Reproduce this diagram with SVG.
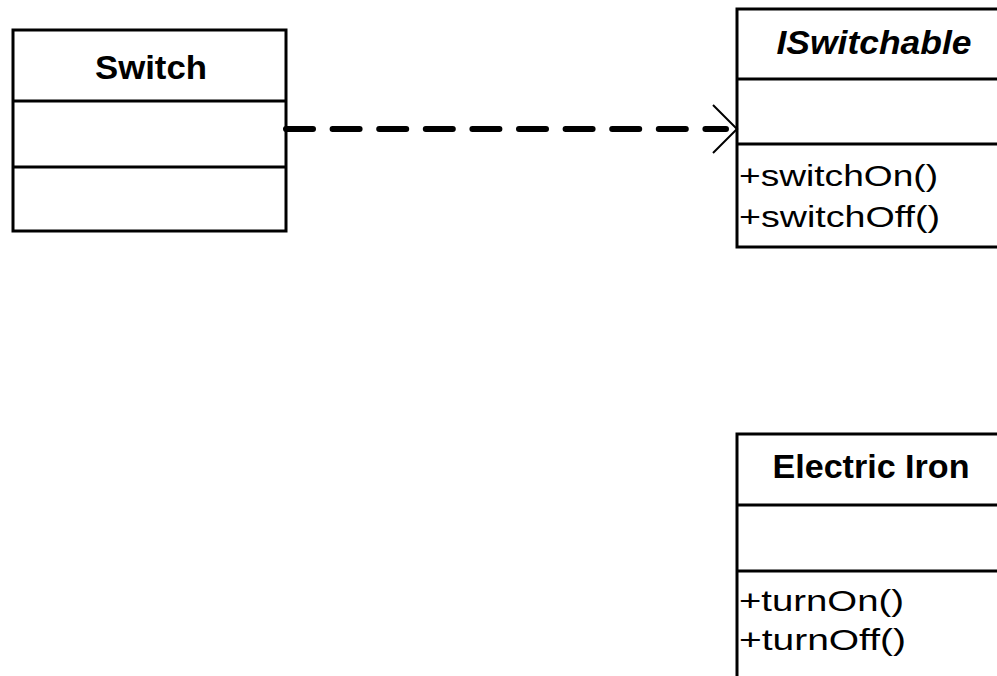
<svg xmlns="http://www.w3.org/2000/svg" width="997" height="676" viewBox="0 0 997 676">
<style>
.box{fill:#fff;stroke:#000;stroke-width:3}
.div{stroke:#000;stroke-width:3}
.name{font-family:"Liberation Sans",Arial,sans-serif;font-weight:bold;font-size:34px;text-anchor:middle;fill:#000}
.op{font-family:"Liberation Sans",Arial,sans-serif;font-size:29px;fill:#000}
.dep{stroke:#000;stroke-width:6;stroke-linecap:round;stroke-dasharray:27 19.6;fill:none}
.head{stroke:#000;stroke-width:2;fill:none}
</style>
<rect width="997" height="676" fill="#fff"/>
<g id="Switch">
<rect class="box" x="13" y="30" width="273" height="201"/>
<line class="div" x1="13" y1="101" x2="286" y2="101"/>
<line class="div" x1="13" y1="167" x2="286" y2="167"/>
<text class="name" x="151" y="79" textLength="112" lengthAdjust="spacingAndGlyphs">Switch</text>
</g>
<g id="ISwitchable">
<rect class="box" x="737" y="9" width="290" height="238"/>
<line class="div" x1="737" y1="79" x2="1027" y2="79"/>
<line class="div" x1="737" y1="144" x2="1027" y2="144"/>
<text class="name" x="874" y="54" font-style="italic" font-size="31" textLength="195" lengthAdjust="spacingAndGlyphs">ISwitchable</text>
<text class="op" x="739" y="186" textLength="199" lengthAdjust="spacingAndGlyphs">+switchOn()</text>
<text class="op" x="739" y="227" textLength="201" lengthAdjust="spacingAndGlyphs">+switchOff()</text>
</g>
<g id="ElectricIron">
<rect class="box" x="737" y="434" width="290" height="260"/>
<line class="div" x1="737" y1="505" x2="1027" y2="505"/>
<line class="div" x1="737" y1="571" x2="1027" y2="571"/>
<text class="name" x="871" y="478" textLength="197" lengthAdjust="spacingAndGlyphs">Electric Iron</text>
<text class="op" x="739" y="611" textLength="165" lengthAdjust="spacingAndGlyphs">+turnOn()</text>
<text class="op" x="739" y="650" textLength="167" lengthAdjust="spacingAndGlyphs">+turnOff()</text>
</g>
<g id="connectors">
<line class="dep" x1="286" y1="129" x2="726" y2="129"/>
<polyline class="head" points="713,105 737,129 713,153"/>
</g>
</svg>
